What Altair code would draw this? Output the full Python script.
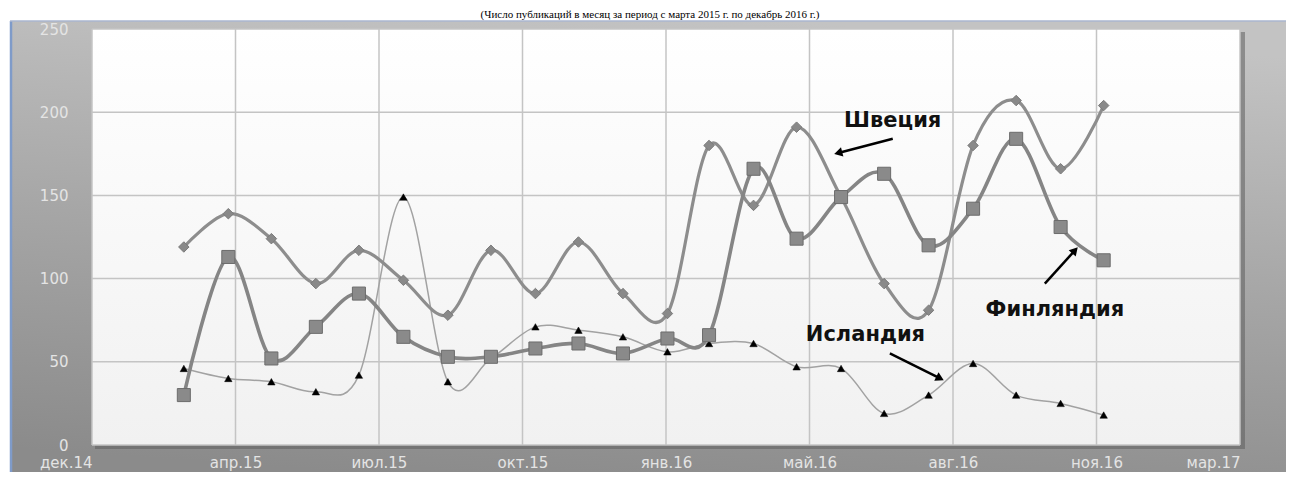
import math
import altair as alt
import pandas as pd

# ---------------- data ----------------
months = ["2015-03-01", "2015-04-01", "2015-05-01", "2015-06-01", "2015-07-01", "2015-08-01",
          "2015-09-01", "2015-10-01", "2015-11-01", "2015-12-01", "2016-01-01", "2016-02-01",
          "2016-03-01", "2016-04-01", "2016-05-01", "2016-06-01", "2016-07-01", "2016-08-01",
          "2016-09-01", "2016-10-01", "2016-11-01", "2016-12-01"]
sweden = [119, 139, 124, 97, 117, 99, 78, 117, 91, 122, 91, 79,
          180, 144, 191, 149, 97, 81, 180, 207, 166, 204]
finland = [30, 113, 52, 71, 91, 65, 53, 53, 58, 61, 55, 64,
           66, 166, 124, 149, 163, 120, 142, 184, 131, 111]
iceland = [46, 40, 38, 32, 42, 149, 38, 52, 71, 69, 65, 56,
           61, 61, 47, 46, 19, 30, 49, 30, 25, 18]

# x-axis ticks (Excel date axis, step 100 days) and y-axis ticks
x_ticks = ["2014-12-27", "2015-04-06", "2015-07-15", "2015-10-23", "2016-01-31",
           "2016-05-10", "2016-08-18", "2016-11-26", "2017-03-06"]
y_ticks = [0, 50, 100, 150, 200, 250]
ru_months = ["янв", "фев", "мар", "апр", "май", "июн", "июл", "авг", "сен", "окт", "ноя", "дек"]

title_text = "(Число публикаций в месяц за период с марта 2015 г. по декабрь 2016 г.)"

# annotations (label anchor, arrow start, arrow end) in data coordinates
ann_labels = ["Швеция", "Финляндия", "Исландия"]
ann_text_date = ["2016-07-07", "2016-10-28", "2016-06-18"]
ann_text_value = [195, 81, 66]
arrow_from_date = ["2016-07-07", "2016-10-21", "2016-07-05"]
arrow_from_value = [184, 97, 55]
arrow_to_date = ["2016-05-30", "2016-11-11", "2016-08-09"]
arrow_to_value = [175.5, 117, 40]

# ---------------- layout ----------------
W, H = 1148, 416
PAD = {"left": 84, "top": 21, "right": 46, "bottom": 27}
Y_MAX = 250
x_start = pd.Timestamp(x_ticks[0])
x_end = pd.Timestamp(x_ticks[-1])


def dt(s):
    t = pd.Timestamp(s)
    return alt.DateTime(year=t.year, month=t.month, date=t.day)


def px(date_s, v):
    t = pd.Timestamp(date_s)
    return ((t - x_start) / (x_end - x_start) * W, H - v / Y_MAX * H)


x_scale = alt.Scale(domain=[dt(x_ticks[0]), dt(x_ticks[-1])], nice=False)
y_scale = alt.Scale(domain=[0, Y_MAX], nice=False, zero=True)

LABEL_COLOR = "#e4e4e4"
LABEL_FONT = "DejaVu Sans"

label_expr = ("[" + ",".join("'%s'" % m for m in ru_months) + "][month(datum.value)]"
              " + '.' + timeFormat(datum.value, '%y')")

x_axis = alt.Axis(
    values=[dt(t) for t in x_ticks], labelExpr=label_expr, grid=False, domain=False,
    ticks=False, labelPadding=10, labelColor=LABEL_COLOR, labelFont=LABEL_FONT,
    labelFontSize=15, title=None, zindex=1, labelBound=False, labelOverlap=False,
    labelAlign={"condition": {"test": "datum.value <= time(datetime(2015, 0, 1)) || datum.value >= time(datetime(2017, 0, 1))",
                              "value": "right"}, "value": "center"},
)
y_axis = alt.Axis(
    values=y_ticks, grid=False, domain=False, ticks=False, labelPadding=24,
    labelColor=LABEL_COLOR, labelFont=LABEL_FONT, labelFontSize=15, title=None, zindex=1,
)


def X(field):
    return alt.X(field, scale=x_scale, axis=x_axis)


def Y(field):
    return alt.Y(field, scale=y_scale, axis=y_axis)


one = pd.DataFrame({"k": [0]})
PANEL_TOP = -8  # relative to plot top

# ---------------- background layers ----------------
panel_grad = alt.LinearGradient(
    gradient="linear",
    stops=[alt.GradientStop(color="#c3c3c3", offset=0),
           alt.GradientStop(color="#a6a6a6", offset=0.5),
           alt.GradientStop(color="#8b8b8b", offset=1)],
    x1=0.6, x2=0.4, y1=0, y2=1,
)
panel = alt.Chart(one).mark_rect(fill=panel_grad).encode(
    x=alt.value(-82), x2=alt.value(W + 60), y=alt.value(PANEL_TOP), y2=alt.value(H + 40)
)
edge_left = alt.Chart(one).mark_rule(color="#7f9bc9", strokeWidth=2.5).encode(
    x=alt.value(-81), y=alt.value(PANEL_TOP), y2=alt.value(H + 40)
)
edge_top = alt.Chart(one).mark_rule(color="#aab6cf", strokeWidth=1.5).encode(
    x=alt.value(-82), x2=alt.value(W + 60), y=alt.value(PANEL_TOP)
)
shadow = alt.Chart(one).mark_rect(fill="#5e5e5e", opacity=0.55).encode(
    x=alt.value(3), x2=alt.value(W + 5), y=alt.value(3), y2=alt.value(H + 4)
)
plot_grad = alt.LinearGradient(
    gradient="linear",
    stops=[alt.GradientStop(color="#ffffff", offset=0),
           alt.GradientStop(color="#f1f1f1", offset=1)],
    x1=0, x2=0, y1=0, y2=1,
)
plot_bg = alt.Chart(one).mark_rect(fill=plot_grad).encode(
    x=alt.value(0), x2=alt.value(W), y=alt.value(0), y2=alt.value(H)
)

GRID = "#c4c4c4"
vgrid = alt.Chart(pd.DataFrame({"d": pd.to_datetime(x_ticks)})).mark_rule(
    color=GRID, strokeWidth=1.5).encode(
    x=X("d:T"), y=alt.value(0), y2=alt.value(H)
)
hgrid = alt.Chart(pd.DataFrame({"v": y_ticks})).mark_rule(
    color=GRID, strokeWidth=1.5).encode(
    y=Y("v:Q"), x=alt.value(0), x2=alt.value(W)
)

# ---------------- series ----------------
dates = pd.to_datetime(months)


def series_layers(values, line_color, line_width, shape, size, fill, stroke, stroke_w):
    df = pd.DataFrame({"date": dates, "value": values})
    base = alt.Chart(df).encode(x=X("date:T"), y=Y("value:Q"))
    line = base.mark_line(color=line_color, strokeWidth=line_width, interpolate="cardinal")
    pts = base.mark_point(shape=shape, size=size, filled=True, fill=fill, stroke=stroke,
                          strokeWidth=stroke_w, opacity=1)
    return [line, pts]


ice = series_layers(iceland, "#a2a2a2", 1.5, "triangle-up", 55, "#000000", "#000000", 0.5)
swe = series_layers(sweden, "#8d8d8d", 3.2, "diamond", 110, "#898989", "#7a7a7a", 1)
fin = series_layers(finland, "#858585", 3.6, "square", 170, "#8a8a8a", "#6c6c6c", 1)

# ---------------- annotations ----------------
angles = []
for fd, fv, td, tv in zip(arrow_from_date, arrow_from_value, arrow_to_date, arrow_to_value):
    x0, y0 = px(fd, fv)
    x1, y1 = px(td, tv)
    a = math.degrees(math.atan2(x1 - x0, -(y1 - y0))) % 360
    angles.append(a)

arr_df = pd.DataFrame({
    "fd": pd.to_datetime(arrow_from_date), "fv": arrow_from_value,
    "td": pd.to_datetime(arrow_to_date), "tv": arrow_to_value, "ang": angles,
})
arrow_shaft = alt.Chart(arr_df).mark_rule(color="#000000", strokeWidth=2.5).encode(
    x=X("fd:T"), x2="td:T", y=Y("fv:Q"), y2="tv:Q",
)
arrow_head = alt.Chart(arr_df).mark_point(shape="triangle-up", filled=True, size=90,
                                          color="#000000", opacity=1).encode(
    x=X("td:T"), y=Y("tv:Q"), angle=alt.Angle("ang:Q", scale=None),
)
ann_df = pd.DataFrame({"d": pd.to_datetime(ann_text_date), "v": ann_text_value, "t": ann_labels})
ann_text = alt.Chart(ann_df).mark_text(font="DejaVu Sans", fontWeight="bold", fontSize=21,
                                       color="#111111", align="center", baseline="middle").encode(
    x=X("d:T"), y=Y("v:Q"), text="t:N",
)

title = alt.Chart(pd.DataFrame({"t": [title_text]})).mark_text(
    font="Liberation Serif", fontSize=11, align="center", baseline="bottom", color="#000000"
).encode(x=alt.value(558), y=alt.value(PANEL_TOP - 1), text="t:N")

chart = alt.layer(
    panel, edge_left, edge_top, shadow, plot_bg, vgrid, hgrid,
    *ice, *swe, *fin,
    arrow_shaft, arrow_head, ann_text, title,
).properties(
    width=W, height=H, padding=PAD,
    autosize=alt.AutoSizeParams(type="none"),
    background="#ffffff",
).configure_view(stroke=None)

chart.save("out.html", embed_options={"renderer": "svg", "actions": False})
